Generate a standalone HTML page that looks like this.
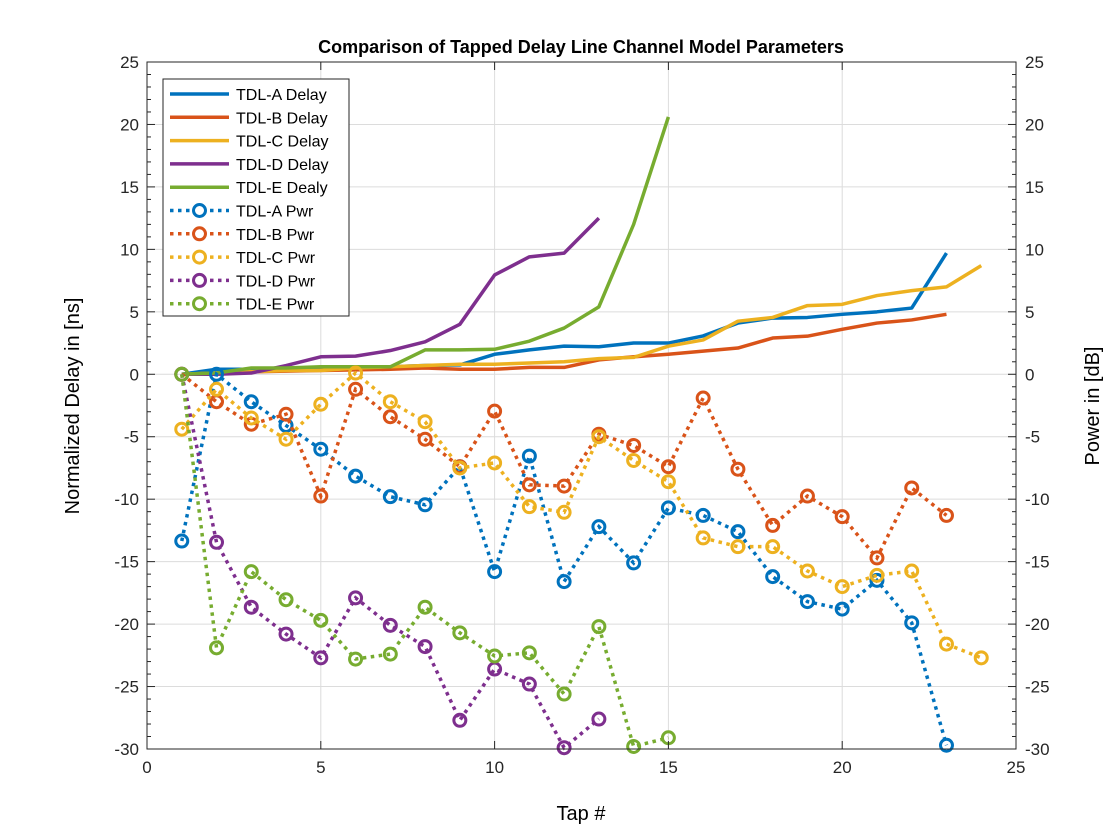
<!DOCTYPE html>
<html><head><meta charset="utf-8"><style>
html,body{margin:0;padding:0;background:#fff;}
svg{display:block;font-family:"Liberation Sans",Arial,sans-serif;}
</style></head><body>
<svg id="chart" width="1120" height="840" viewBox="0 0 1120 840" xmlns="http://www.w3.org/2000/svg">
<rect x="0" y="0" width="1120" height="840" fill="#fff"/>
<g id="grid"></g>
<g id="series"></g>
<g id="axes"></g>
<g id="legend"></g>
<text x="581" y="53" text-anchor="middle" font-size="18" font-weight="bold">Comparison of Tapped Delay Line Channel Model Parameters</text>
<text x="581" y="820" text-anchor="middle" font-size="20">Tap #</text>
<text transform="translate(79,406) rotate(-90)" text-anchor="middle" font-size="20">Normalized Delay in [ns]</text>
<text transform="translate(1099,406) rotate(-90)" text-anchor="middle" font-size="20">Power in [dB]</text>
</svg>
<script>
const xTicks = [0,5,10,15,20,25];
const yTicks = [25,20,15,10,5,0,-5,-10,-15,-20,-25,-30];
const names = ["TDL-A","TDL-B","TDL-C","TDL-D","TDL-E"];
const colors = ["#0072BD","#D95319","#EDB120","#7E2F8E","#77AC30"];
const delayA = [0,0.4,0.4,0.5,0.5,0.55,0.6,0.7,0.75,1.6,1.95,2.25,2.2,2.5,2.5,3.07,4.1,4.5,4.55,4.8,5.0,5.3,9.7];
const delayB = [0,0.1,0.2,0.25,0.3,0.35,0.4,0.5,0.4,0.4,0.55,0.55,1.15,1.4,1.6,1.85,2.1,2.9,3.05,3.6,4.1,4.35,4.8];
const delayC = [0,0.1,0.2,0.3,0.3,0.5,0.6,0.7,0.8,0.8,0.9,1.0,1.25,1.35,2.25,2.75,4.25,4.55,5.5,5.6,6.3,6.7,7.0,8.7];
const delayD = [0,0,0.1,0.7,1.4,1.45,1.9,2.6,4.0,7.95,9.4,9.7,12.5];
const delayE = [0,0.1,0.5,0.5,0.6,0.6,0.6,1.95,1.95,2.0,2.65,3.7,5.4,12.0,20.6];
const pwrA = [-13.35,0,-2.2,-4.1,-6.0,-8.15,-9.8,-10.45,-7.4,-15.8,-6.55,-16.6,-12.2,-15.1,-10.7,-11.3,-12.6,-16.2,-18.2,-18.8,-16.5,-19.9,-29.7];
const pwrB = [0,-2.2,-4.0,-3.2,-9.75,-1.2,-3.4,-5.2,-7.4,-2.95,-8.85,-8.95,-4.8,-5.7,-7.4,-1.9,-7.6,-12.1,-9.75,-11.4,-14.7,-9.1,-11.3];
const pwrC = [-4.4,-1.2,-3.5,-5.2,-2.4,0.1,-2.2,-3.8,-7.5,-7.1,-10.6,-11.05,-5.0,-6.9,-8.6,-13.1,-13.8,-13.8,-15.75,-17.0,-16.1,-15.75,-21.6,-22.7];
const pwrD = [0,-13.45,-18.65,-20.8,-22.7,-17.9,-20.1,-21.8,-27.7,-23.6,-24.8,-29.9,-27.6];
const pwrE = [0,-21.9,-15.8,-18.05,-19.7,-22.8,-22.4,-18.65,-20.7,-22.55,-22.3,-25.6,-20.2,-29.8,-29.1];
const delays = [delayA,delayB,delayC,delayD,delayE];
const pwrs = [pwrA,pwrB,pwrC,pwrD,pwrE];

const L=147,R=1016,T=62,B=749;
const xs = v => L + (v-0)/(25-0)*(R-L);
const ys = v => T + (25-v)/(25-(-30))*(B-T);
const NS="http://www.w3.org/2000/svg";
function mk(tag, attrs, parent){const e=document.createElementNS(NS,tag);for(const k in attrs)e.setAttribute(k,attrs[k]);parent.appendChild(e);return e;}
const grid=document.getElementById('grid'), axes=document.getElementById('axes'), ser=document.getElementById('series'), leg=document.getElementById('legend');

xTicks.forEach(t=>{
  const gl=mk('line',{x1:xs(t),x2:xs(t),y1:T,y2:B,stroke:'#dcdcdc','stroke-width':1},grid);
  
  
  mk('line',{x1:xs(t),x2:xs(t),y1:B,y2:B-8,stroke:'#262626'},axes);
  mk('line',{x1:xs(t),x2:xs(t),y1:T,y2:T+8,stroke:'#262626'},axes);
  const tx=mk('text',{x:xs(t),y:B+24,'text-anchor':'middle','font-size':17,fill:'#262626'},axes);
  tx.textContent=t;
  
  
});
yTicks.forEach(t=>{
  const gl=mk('line',{x1:L,x2:R,y1:ys(t),y2:ys(t),stroke:'#dcdcdc','stroke-width':1},grid);
  
  
  mk('line',{x1:L,x2:L+8,y1:ys(t),y2:ys(t),stroke:'#262626'},axes);
  mk('line',{x1:R,x2:R-8,y1:ys(t),y2:ys(t),stroke:'#262626'},axes);
  const a=mk('text',{x:L-8,y:ys(t)+6,'text-anchor':'end','font-size':17,fill:'#262626'},axes);
  a.textContent=t;
  
  
  const b=mk('text',{x:R+9,y:ys(t)+6,'text-anchor':'start','font-size':17,fill:'#262626'},axes);
  b.textContent=t;
  
  
});
for(let v=-30; v<=25; v++){ if(v%5===0) continue;
  mk('line',{x1:L,x2:L+4,y1:ys(v),y2:ys(v),stroke:'#262626'},axes);
  mk('line',{x1:R,x2:R-4,y1:ys(v),y2:ys(v),stroke:'#262626'},axes);
}
mk('rect',{x:L,y:T,width:R-L,height:B-T,fill:'none',stroke:'#262626','stroke-width':1},axes);

function pts(arr){return arr.map((v,i)=>xs(i+1)+','+ys(v)).join(' ');}
delays.forEach((d,k)=>{
  const p=mk('polyline',{points:pts(d),fill:'none',stroke:colors[k],'stroke-width':3.5,'stroke-linejoin':'round'},ser);
  
  
});
pwrs.forEach((d,k)=>{
  const p=mk('polyline',{points:pts(d),fill:'none',stroke:colors[k],'stroke-width':3.5,'stroke-dasharray':'3.5 4.5'},ser);
  
  
  d.forEach((v,i)=>{
    const c=mk('circle',{cx:xs(i+1),cy:ys(v),r:6,fill:'none',stroke:colors[k],'stroke-width':3},ser);
    
    
  });
});

const lb=mk('rect',{x:163,y:79,width:186,height:237,fill:'#fff',stroke:'#262626','stroke-width':1},leg);


for(let i=0;i<10;i++){
  const y=94+i*23.3, k=i%5, isP=i>=5;
  const g=mk('g',{},leg);
  
  
  if(isP){
    mk('line',{x1:170,x2:229,y1:y,y2:y,stroke:colors[k],'stroke-width':3.5,'stroke-dasharray':'3.5 4.5'},g);
    mk('circle',{cx:199.5,cy:y,r:6,fill:'#fff',stroke:colors[k],'stroke-width':3},g);
  } else {
    mk('line',{x1:170,x2:229,y1:y,y2:y,stroke:colors[k],'stroke-width':3.5},g);
  }
  const t=mk('text',{x:236,y:y+6,'font-size':16,fill:'#000'},g);
  t.textContent=names[k]+(isP?' Pwr':(k===4?' Dealy':' Delay'));
}
</script>
</body></html>
